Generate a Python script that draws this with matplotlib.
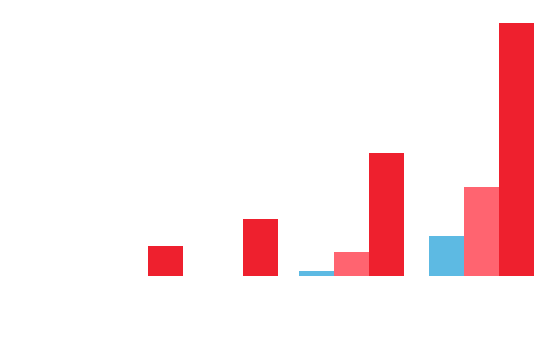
import matplotlib
matplotlib.use('Agg')
import matplotlib.pyplot as plt
import numpy as np

# group positions on a numeric x axis, and bar heights per series
group_x = [130.5, 225.5, 351.5, 481.5]
blue_vals = [0, 0, 5, 40]
pink_vals = [0, 0, 24, 89]
red_vals = [30, 57, 123, 253]

series = [
    (blue_vals, '#5DBAE3', -1),
    (pink_vals, '#FF6470', 0),
    (red_vals, '#EE202E', 1),
]
bar_w = 35

fig = plt.figure(figsize=(5.55, 3.54), dpi=100)
ax = fig.add_axes([0, 0, 1, 1])
x = np.array(group_x)
for vals, color, off in series:
    v = np.array(vals, dtype=float)
    mask = v > 0
    ax.bar(x[mask] + off * bar_w, v[mask], width=bar_w, color=color, linewidth=0)

ax.set_xlim(0, 555)
ax.set_ylim(-78, 276)
ax.axis('off')
fig.savefig('out.png', dpi=100, facecolor='white')
